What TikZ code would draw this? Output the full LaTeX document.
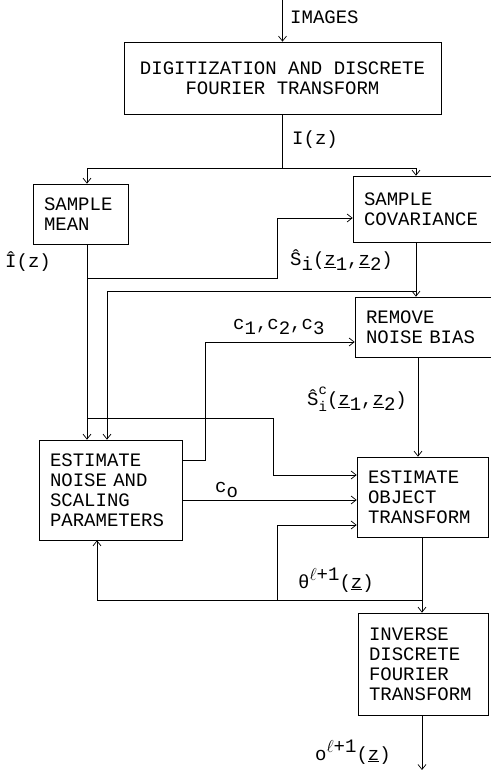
\documentclass[tikz,border=0pt]{standalone}
\usepackage{fontspec}
\setmainfont{Liberation Mono}
\usepackage{tikz}
\usetikzlibrary{arrows.meta, positioning, calc}
\newcommand{\lo}[1]{\raisebox{-5pt}{#1}}
\newcommand{\hi}[1]{\raisebox{8pt}{#1}}
\newcommand{\hilo}[2]{\raisebox{-5.5pt}{\fontsize{14}{16.5}\selectfont\vbox{\baselineskip=16.5pt\lineskiplimit=-20pt\hbox{#1}\hbox{#2}}}}
\tikzset{
	blocknode/.style={
			draw=black,
			line width=0.7pt,
			fill=white,
			inner xsep=11pt,
			inner ysep=0pt,
			align=left,
			font=\fontsize{19}{20}\selectfont
		},
	labelnode/.style={
			anchor=west,
			inner sep=0pt,
			font=\fontsize{19}{20}\selectfont
		},
	wireline/.style={
			line width=0.7pt
		},
	flowline/.style={
			wireline,
			-{Straight Barb[length=5pt,width=8pt]}
		}
}
\begin{document}
\begin{tikzpicture}[x=1pt, y=-1pt]
\useasboundingbox (0,0) rectangle (490,770);
    \node[blocknode, align=center, minimum width=317pt, minimum height=72pt] (dft) at (282.5,78) {DIGITIZATION AND DISCRETE\\FOURIER TRANSFORM};
    \node[blocknode, text width=73pt, minimum height=60pt] (mean) at (80.5,214) {SAMPLE\\MEAN};
    \node[blocknode, text width=125pt, minimum height=66pt] (cov) at (426.5,209) {SAMPLE\\COVARIANCE};
    \node[blocknode, text width=123pt, minimum height=60pt] (rmv) at (427.5,327) {REMOVE\\NOISE BIAS};
    \node[blocknode, text width=121pt, minimum height=100pt] (noise) at (110.5,490) {ESTIMATE\\NOISE AND\\SCALING\\PARAMETERS};
    \node[blocknode, text width=109pt, minimum height=80pt] (obj) at (422.5,497) {ESTIMATE\\OBJECT\\TRANSFORM};
    \node[blocknode, text width=108pt, minimum height=102pt] (inv) at (423,664) {INVERSE\\DISCRETE\\FOURIER\\TRANSFORM};

    \coordinate (src) at (282.5,0);
    \coordinate (split) at (282.5,168);
    \coordinate (mtap) at (87,278);
    \coordinate (mtap2) at (87,418);
    \coordinate (ctap) at (416,291);
    \coordinate (fb) at (422,600);
    \coordinate (fb2) at (277,600);
    \coordinate (sink) at (422,770);

    \draw[flowline] (src) -- (dft);
    \draw[wireline] (dft) -- (split);
    \draw[flowline] (split) -| (mean.north -| 87,0);
    \draw[flowline] (split) -| (cov.north -| 416,0);

    \draw[flowline] (mean.south -| 87,0) -- (noise.north -| 87,0);
    \draw[flowline] (mtap) -| (277,218) -- (cov.west |- 0,218);
    \draw[flowline] (cov.south -| ctap) -- (rmv.north -| ctap);
    \draw[flowline] (ctap) -| (noise.north -| 107,0);
    \draw[flowline] (noise.east |- 0,460) -| (205,342) -- (rmv.west |- 0,342);
    \draw[flowline] (rmv.south -| 418,0) -- (obj.north -| 418,0);
    \draw[flowline] (mtap2) -| (273,475) -- (obj.west |- 0,475);
    \draw[flowline] (noise.east |- 0,500) -- (obj.west |- 0,500);
    \draw[flowline] (obj.south -| fb) -- (inv.north -| fb);
    \draw[flowline] (fb) -| (noise.south -| 97,0);
    \draw[flowline] (fb2) |- (obj.west |- 0,525);
    \draw[flowline] (inv.south -| fb) -- (sink);

    \node[labelnode] (limg) at (290,17) {IMAGES};
    \node[labelnode] (liz) at (292,140) {I(z)};
    \node[labelnode] (lihat) at (5,262) {Î(z)};
    \node[labelnode] (lshat) at (290,260) {Ŝ\lo{i}(\underline{z}\lo{1},\underline{z}\lo{2})};
    \node[labelnode] (lc) at (233,327) {c\lo{1},c\lo{2},c\lo{3}};
    \node[labelnode] (lschat) at (307,399) {Ŝ\hilo{c}{i}(\underline{z}\lo{1},\underline{z}\lo{2})};
    \node[labelnode] (lco) at (215,490) {c\lo{o}};
    \node[labelnode] (ltheta) at (298,580) {θ\hi{$\ell$+1}(\underline{z})};
    \node[labelnode] (lout) at (315,752) {o\hi{$\ell$+1}(\underline{z})};
\end{tikzpicture}
\end{document}
